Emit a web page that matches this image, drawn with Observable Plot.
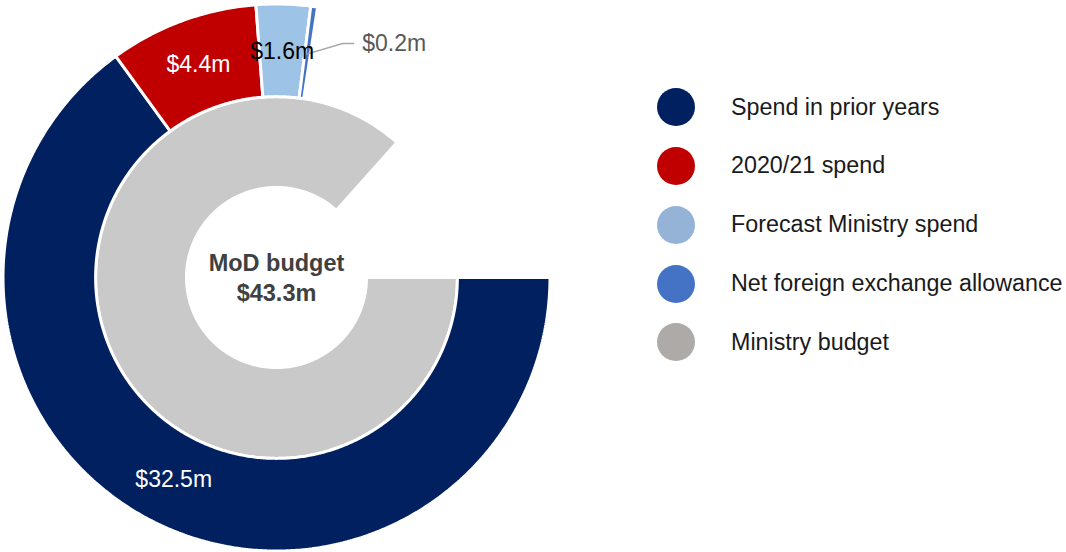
<!DOCTYPE html>
<html>
<head>
<meta charset="utf-8">
<script src="https://cdn.jsdelivr.net/npm/d3@7"></script>
<script src="https://cdn.jsdelivr.net/npm/@observablehq/plot@0.6"></script>
<style>
  html, body { margin: 0; padding: 0; background: #fff; }
  #wrap { position: relative; width: 1066px; height: 552px; overflow: hidden; font-family: "Liberation Sans", Arial, sans-serif; }
  #wrap svg { position: absolute; left: 0; top: 0; }
  #legend { position: absolute; left: 657px; top: 78px; }
  .item { display: flex; align-items: center; height: 58.75px; margin-top: 0; }
  .sw { width: 38px; height: 38px; border-radius: 50%; flex: none; }
  .lab { margin-left: 36px; font-size: 23.3px; color: #1a1a1a; white-space: nowrap; line-height: 1; }
</style>
</head>
<body>
<div id="wrap"><div id="legend"></div></div>
<script>
// ---- data ----
const outerCategories = ["Spend in prior years", "2020/21 spend", "Forecast Ministry spend", "Net foreign exchange allowance"];
const outerValues = [32.5, 4.4, 1.6, 0.2];
const outerLabels = ["$32.5m", "$4.4m", "$1.6m", "$0.2m"];
const innerCategories = ["Ministry budget"];
const innerValues = [43.3];
const centerLines = ["MoD budget", "$43.3m"];
const fullCircleValue = 50; // $m represented by a full turn
const legendCategories = ["Spend in prior years", "2020/21 spend", "Forecast Ministry spend", "Net foreign exchange allowance", "Ministry budget"];

// ---- styles ----
const ringColors = ["#002060", "#C00000", "#9DC3E6", "#4472C4", "#C9C9C9"];
const legendColors = ["#002060", "#C00000", "#95B3D7", "#4472C4", "#AEAAA8"];
const labelColors = ["white", "white", "black", "#595959"];

// ---- geometry (unit = outer radius) ----
const cx = 276, cy = 277, R = 272;
const rOuterOut = 1.0055, rOuterIn = 0.665, rInnerIn = 0.331;
const start = Math.PI / 2;
const toAngle = v => v / fullCircleValue * 2 * Math.PI;

function ring(categories, values, r0, r1) {
  const pts = [], slices = [];
  let acc = 0;
  categories.forEach((key, i) => {
    const a0 = start + toAngle(acc);
    acc += values[i];
    const a1 = start + toAngle(acc);
    slices.push({key, a0, a1, r0, r1, i});
    const n = Math.max(2, Math.ceil((a1 - a0) / (Math.PI / 360)));
    const poly = [];
    for (let k = 0; k <= n; k++) { const a = a0 + (a1 - a0) * k / n; poly.push({key, x: r1 * Math.sin(a), y: r1 * Math.cos(a)}); }
    for (let k = n; k >= 0; k--) { const a = a0 + (a1 - a0) * k / n; poly.push({key, x: r0 * Math.sin(a), y: r0 * Math.cos(a)}); }
    poly.push(poly[0]);
    pts.push(...poly);
  });
  return {pts, slices};
}

const inner = ring(innerCategories, innerValues, rInnerIn, rOuterIn);
const outer = ring(outerCategories, outerValues, rOuterIn, rOuterOut);

// labels at centroids for the first three outer slices
const inLabels = outer.slices.slice(0, 3).map(s => {
  const a = (s.a0 + s.a1) / 2, r = (rOuterIn + 1) / 2;
  return {x: r * Math.sin(a), y: r * Math.cos(a), text: outerLabels[s.i], color: labelColors[s.i]};
});
// callout for the last slice
const last = outer.slices[3];
const am = (last.a0 + last.a1) / 2;
const p0 = {x: 0.83 * Math.sin(am), y: 0.83 * Math.cos(am)};
const pe = {x: 0.894 * Math.sin(am + 0.137), y: 0.894 * Math.cos(am + 0.137)};
const p2 = {x: pe.x + 0.04, y: pe.y};
const leader = [p0, pe, p2];
const callout = [{x: p2.x + 0.032, y: p2.y, text: outerLabels[3], color: labelColors[3]}];

const chart = Plot.plot({
  width: 1066,
  height: 552,
  margin: 0,
  x: {type: "linear", domain: [-1, 1], range: [cx - R, cx + R], axis: null},
  y: {type: "linear", domain: [-1, 1], range: [cy + R, cy - R], axis: null},
  color: {domain: [...outerCategories, ...innerCategories], range: ringColors},
  style: {fontFamily: "'Liberation Sans', Arial, sans-serif", background: "white", overflow: "visible"},
  marks: [
    Plot.line(inner.pts, {x: "x", y: "y", z: "key", fill: "key", stroke: "white", strokeWidth: 3, strokeLinejoin: "miter"}),
    Plot.line(outer.pts, {x: "x", y: "y", z: "key", fill: "key", stroke: "white", strokeWidth: 3, strokeLinejoin: "miter"}),
    Plot.line(leader, {x: "x", y: "y", stroke: "#A6A6A6", strokeWidth: 1.5}),
    Plot.text(inLabels, {x: "x", y: "y", text: "text", fill: "color", fontSize: 23}),
    Plot.text(callout, {x: "x", y: "y", text: "text", fill: "color", fontSize: 23, textAnchor: "start"}),
    Plot.text([centerLines.join("\n")], {x: () => 0, y: () => 0, text: d => d, fill: "#404040", fontSize: 23.5, fontWeight: "bold", lineHeight: 1.28, dy: -1})
  ]
});
document.getElementById("wrap").prepend(chart);

// legend
const legend = document.getElementById("legend");
legendCategories.forEach((c, i) => {
  const item = document.createElement("div");
  item.className = "item";
  const sw = document.createElement("div");
  sw.className = "sw";
  sw.style.background = legendColors[i];
  const lab = document.createElement("div");
  lab.className = "lab";
  lab.textContent = c;
  item.append(sw, lab);
  legend.append(item);
});
</script>
</body>
</html>
